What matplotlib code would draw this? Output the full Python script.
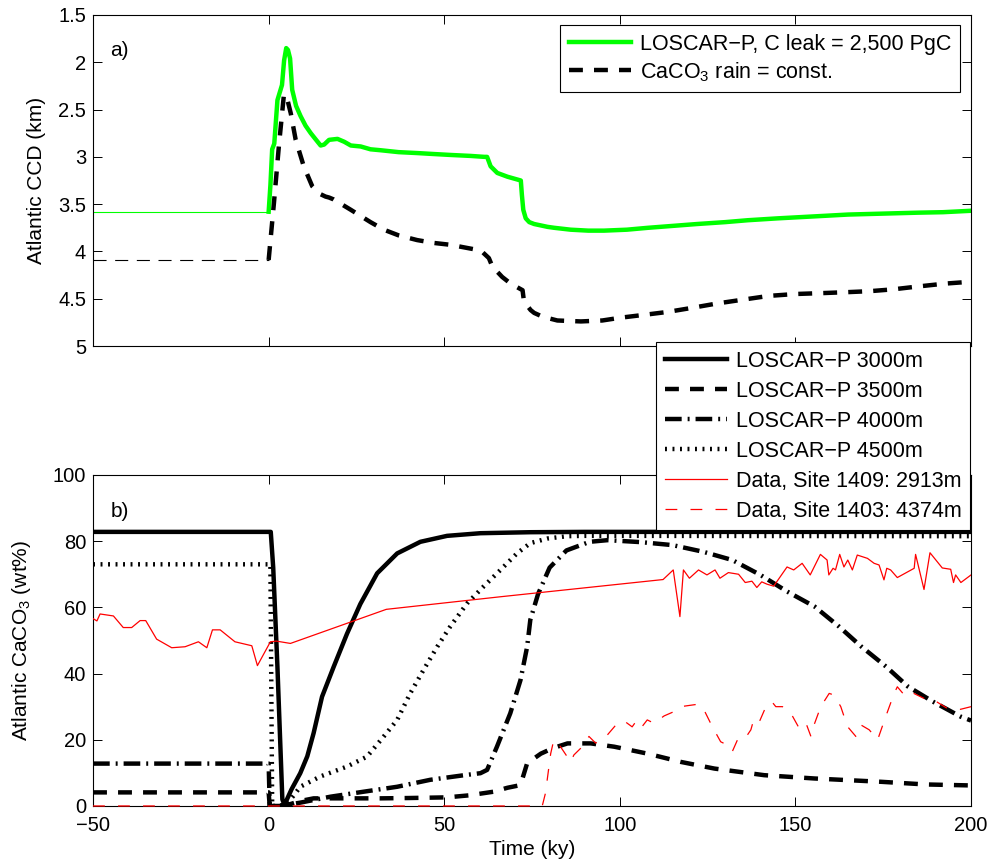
import matplotlib
matplotlib.use("Agg")
import matplotlib.pyplot as plt
from matplotlib.ticker import FormatStrFormatter, MultipleLocator

plt.rcParams["font.family"] = ["Liberation Sans", "DejaVu Sans"]
plt.rcParams["mathtext.fontset"] = "custom"
plt.rcParams["mathtext.rm"] = "Liberation Sans"
plt.rcParams["lines.scale_dashes"] = False
plt.rcParams["axes.linewidth"] = 0.8

# ---------------- panel a) Atlantic CCD (km) ----------------
pre_t = [-50, 0]
ccd_pre_leak = [3.58, 3.58]
ccd_pre_const = [4.09, 4.09]

ccd_leak_t = [0, 0.5, 1.0, 1.6, 2.5, 3.8, 4.4, 5.0, 5.5, 6.1, 6.7, 7.8, 9.1, 10.5,
              12.0, 13.5, 14.8, 15.8, 17.2, 19.6, 21.5, 23.4, 26.2, 29, 31.9, 37,
              42.4, 47, 51.9, 57.5, 61.4, 62.2, 63.2, 65.1, 68, 71.8, 72.1, 72.5,
              73.2, 74.2, 75.6, 79.4, 81.3, 86, 91, 95.5, 102, 108, 115, 122, 130,
              136.4, 145, 155, 165, 175, 185, 192, 200]
ccd_leak = [3.58, 3.30, 2.92, 2.86, 2.40, 2.24, 1.98, 1.85, 1.87, 1.96, 2.29, 2.46,
            2.57, 2.67, 2.75, 2.82, 2.88, 2.87, 2.82, 2.81, 2.84, 2.88, 2.89, 2.92,
            2.93, 2.95, 2.96, 2.97, 2.98, 2.99, 3.00, 3.00, 3.10, 3.17, 3.21, 3.25,
            3.40, 3.56, 3.65, 3.69, 3.71, 3.74, 3.75, 3.77, 3.78, 3.78, 3.77, 3.75,
            3.73, 3.71, 3.69, 3.67, 3.65, 3.63, 3.61, 3.60, 3.59, 3.585, 3.57]

ccd_const_t = [0, 1.5, 2.9, 4.3, 5.0, 5.7, 6.3, 7.7, 10, 12.4, 14.5, 16.2, 17.2,
               18.5, 23.4, 29, 32.8, 37, 42.3, 47, 51.8, 57.5, 60.4, 62.7, 63.7,
               66.5, 68.9, 72.3, 72.7, 74.6, 75.6, 78, 82.2, 88.9, 95, 100.3, 107,
               113.5, 120, 127.7, 135, 142.4, 150, 158, 165, 171.2, 178, 185,
               192.6, 200]
ccd_const = [4.09, 3.49, 2.89, 2.36, 2.34, 2.45, 2.54, 2.82, 3.10, 3.31, 3.39,
             3.42, 3.43, 3.45, 3.56, 3.69, 3.77, 3.83, 3.88, 3.91, 3.93, 3.97,
             3.99, 4.07, 4.16, 4.27, 4.34, 4.41, 4.53, 4.62, 4.65, 4.69, 4.73,
             4.74, 4.73, 4.70, 4.67, 4.64, 4.60, 4.55, 4.51, 4.47, 4.45, 4.44,
             4.43, 4.42, 4.40, 4.37, 4.34, 4.32]

# ---------------- panel b) Atlantic CaCO3 (wt%) ----------------
m3000_t = [-50, 0.6, 1.3, 2.5, 3.9, 4.5, 5.0, 6.5, 9.0, 11, 12.8, 15.2, 18.5, 22.3,
           26.1, 30.9, 36.6, 43.2, 50.8, 60.3, 74.5, 90, 200]
m3000 = [82.8, 82.8, 72, 42, 2, 0.3, 1.5, 5, 9.9, 15, 22, 33, 42, 52, 61, 70.3,
         76.3, 79.8, 81.6, 82.4, 82.7, 82.8, 82.8]

m3500_t = [-50, 0, 0.3, 3, 6, 9, 12.8, 20, 31.8, 40, 50.8, 57, 64, 68, 71.7, 73.6,
           77.5, 81, 85.1, 91.7, 98.4, 107.9, 117.4, 126.9, 141.1, 155.4, 174.4,
           187, 200]
m3500 = [4.1, 4.1, 0, 0, 0.5, 1.5, 2.3, 2.3, 2.3, 2.4, 2.6, 3.2, 4.3, 5.5, 6.3,
         12.9, 15.8, 17.5, 18.9, 18.9, 17.9, 15.8, 13.3, 11.3, 9.3, 8.3, 7.3, 6.5,
         6.2]

m4000_t = [-50, 0, 0.3, 3, 5, 9, 17.6, 27, 36.6, 46, 55, 60.3, 62.2, 65, 68.8,
           71.7, 73.6, 74.5, 76.7, 80, 84.8, 91.4, 96.5, 106, 115, 123.7, 132, 140,
           147.6, 155.5, 162.4, 168.7, 175.8, 182, 189, 197, 200]
m4000 = [12.8, 12.8, 0, 0, 0.3, 1, 2.8, 4.3, 5.8, 7.9, 9.2, 9.9, 10.9, 17.9, 28,
         38, 48.1, 56.2, 64, 72, 77.2, 79.8, 80.3, 79.7, 78.8, 76.8, 74.3, 69.8,
         64.8, 60.2, 54.2, 48.2, 42.1, 36.1, 31.6, 27, 25.8]

m4500_t = [-50, 0.5, 1.0, 3, 5, 7, 9, 14.7, 22.3, 28, 32.7, 36.6, 40.3, 44.1, 48,
           51.7, 56.5, 61.2, 66, 70.7, 74.5, 79.4, 85, 90, 100, 200]
m4500 = [73, 73, 0, 0, 0.5, 3, 5.8, 8.9, 11.9, 14.9, 20.9, 26, 34, 41.1, 48.1,
         54.2, 61.2, 66.3, 71.3, 76.3, 79.4, 80.8, 81.5, 81.6, 81.6, 81.5]

site1409_t = [-50, -48.9, -48, -44.2, -41.4, -39, -36.6, -35, -31.9, -27.6, -23.8,
              -20, -17.6, -16, -13.8, -9.6, -4.8, -3.2, 0.5, 2.2, 6.2, 33.5, 66,
              112.3, 115.2, 117.1, 118.1, 119.8, 122.4, 124.8, 127.1, 128.5, 130.9,
              133.8, 135.7, 137.6, 139, 140.4, 141.9, 143.8, 147.6, 149.5, 151.9,
              154.2, 157.1, 159, 159.5, 160.7, 161.4, 162.6, 163.8, 164.9, 166.2,
              167.6, 170.5, 172.4, 173.8, 175.2, 176, 177.1, 179, 183.8, 184.2,
              186.6, 188.3, 191.8, 194.2, 195, 195.6, 197.1, 200]
site1409 = [56.6, 55.9, 58, 57.4, 53.9, 53.9, 56, 56, 50.4, 47.8, 48.1, 49.6, 47.8,
            53.2, 53.2, 49.6, 48.4, 42.4, 49.6, 49.8, 49.1, 59.4, 63.2, 68.4, 71.3,
            57.2, 71.3, 68.8, 71.3, 69.8, 71.3, 68.8, 70.5, 70, 67.5, 67.9, 66,
            67.7, 67, 66.4, 72.2, 71.3, 73.3, 69.8, 76, 74.3, 69.8, 71.8, 71.3, 76,
            72.2, 74.3, 71.3, 75.8, 74.8, 73.3, 72.8, 68.3, 71.8, 71.3, 69, 71.8,
            76, 65.4, 76.5, 71.9, 71.5, 67.5, 69.8, 67.5, 69.8]

site1403_t = [-50, 0, 50, 77.9, 78.8, 80.3, 81.2, 83.1, 86, 86.9, 89.3, 91.2, 93.1,
              96.4, 99.3, 101.2, 103.5, 104.5, 105.9, 107.8, 109.7, 112.6, 115.4,
              117.3, 122, 123.5, 126.3, 128.7, 130.6, 132, 133.5, 135.4, 137.3,
              138.2, 139.7, 142, 143.5, 144.4, 146.3, 148.7, 151.1, 153, 154.4,
              155.3, 157.2, 159.6, 161, 162.9, 164.8, 167.2, 168.6, 171, 173.4,
              175.7, 178.1, 179, 181.4, 183.7, 186.6, 189.4, 193.2, 197, 200]
site1403 = [0, 0, 0, 0, 3.8, 15.8, 20, 17.9, 13.3, 15.4, 17.9, 21, 19, 21.4, 25,
            25.7, 23.9, 25.4, 23.4, 26, 25, 27.2, 28.5, 30, 30.7, 30, 24, 19.4,
            18.4, 16.4, 20, 20, 23, 26.4, 25.4, 31, 31.2, 30, 30, 28, 23.4, 25, 21,
            24.5, 30, 34, 33.5, 30, 24, 21, 24.5, 23, 20, 27, 34, 36, 33, 34, 32.5,
            32, 29.5, 29.2, 30]

x_ticks = [-50, 0, 50, 100, 150, 200]

# line styles (dash lengths in points)
THICK = 3.2
dash_thick = (0, (10, 8))
dash_thin = (0, (9.4, 6.2))
dot_thick = (0, (1.4, 4.0))
dashdot_thick = (0, (12, 4.3, 1.4, 4.3))
dash_red = (0, (8.5, 9.5))
LEG_FS = 15.5

fig = plt.figure(figsize=(9.92, 8.67), dpi=100)
ax1 = fig.add_axes([0.0938, 0.6009, 0.8851, 0.3818])
ax2 = fig.add_axes([0.0938, 0.0704, 0.8851, 0.3818])

# ---- panel a ----
ax1.plot(pre_t, ccd_pre_leak, color="#00ff00", lw=0.8)
ax1.plot(pre_t, ccd_pre_const, color="black", lw=0.8, linestyle=dash_thin)
ax1.plot(ccd_leak_t, ccd_leak, color="#00ff00", lw=THICK,
         label="LOSCAR\u2212P, C leak = 2,500 PgC")
ax1.plot(ccd_const_t, ccd_const, color="black", lw=THICK, linestyle=dash_thick,
         label="CaCO$_\\mathregular{3}$ rain = const.")
ax1.set_xlim(-50, 200)
ax1.set_ylim(5, 1.5)
ax1.set_xticks(x_ticks)
ax1.set_xticklabels([])
ax1.yaxis.set_major_locator(MultipleLocator(0.5))
ax1.yaxis.set_major_formatter(FormatStrFormatter("%g"))
ax1.set_ylabel("Atlantic CCD (km)", fontsize=15)
ax1.yaxis.set_label_coords(-0.058, 0.5)
ax1.yaxis.label.set_va("baseline")
ax1.text(0.02, 0.894, "a)", transform=ax1.transAxes, fontsize=15, va="center",
         ha="left")
leg1 = ax1.legend(loc="upper right", bbox_to_anchor=(0.9677, 0.9712),
                  bbox_transform=fig.transFigure, borderaxespad=0,
                  fontsize=LEG_FS, handlelength=2.9, handletextpad=0.4,
                  borderpad=0.4, labelspacing=0.25, fancybox=False, framealpha=1,
                  edgecolor="black")
leg1.get_frame().set_linewidth(0.8)

# ---- panel b ----
ax2.plot(m3000_t, m3000, color="black", lw=THICK, solid_joinstyle="round",
         label="LOSCAR\u2212P 3000m")
ax2.plot(m3500_t, m3500, color="black", lw=THICK, linestyle=dash_thick,
         label="LOSCAR\u2212P 3500m")
ax2.plot(m4000_t, m4000, color="black", lw=THICK, linestyle=dashdot_thick,
         label="LOSCAR\u2212P 4000m")
ax2.plot(m4500_t, m4500, color="black", lw=THICK, linestyle=dot_thick,
         label="LOSCAR\u2212P 4500m")
ax2.plot(site1409_t, site1409, color="red", lw=0.9, zorder=3,
         label="Data, Site 1409: 2913m")
ax2.plot(site1403_t, site1403, color="red", lw=0.9, linestyle=dash_red, zorder=3,
         clip_on=False, label="Data, Site 1403: 4374m")
ax2.set_xlim(-50, 200)
ax2.set_ylim(0, 100)
ax2.set_xticks(x_ticks)
ax2.yaxis.set_major_locator(MultipleLocator(20))
ax2.set_xlabel("Time (ky)", fontsize=15, labelpad=4)
ax2.set_ylabel("Atlantic CaCO$_\\mathregular{3}$ (wt%)", fontsize=15)
ax2.yaxis.set_label_coords(-0.0755, 0.5)
ax2.yaxis.label.set_va("baseline")
ax2.text(0.02, 0.889, "b)", transform=ax2.transAxes, fontsize=15, va="center",
         ha="left")
leg2 = ax2.legend(loc="upper right", bbox_to_anchor=(0.9778, 0.6055),
                  bbox_transform=fig.transFigure, borderaxespad=0,
                  fontsize=LEG_FS, handlelength=2.9, handletextpad=0.4,
                  borderpad=0.4, labelspacing=0.42, fancybox=False,
                  framealpha=1, edgecolor="black")
leg2.get_frame().set_linewidth(0.8)

for ax in (ax1, ax2):
    ax.tick_params(direction="in", top=True, right=True, length=6.5, width=0.7,
                   labelsize=14.5, pad=5)
    ax.tick_params(axis="x", pad=7)
    for s in ax.spines.values():
        s.set_linewidth(0.8)

fig.savefig("out.png", dpi=100)
